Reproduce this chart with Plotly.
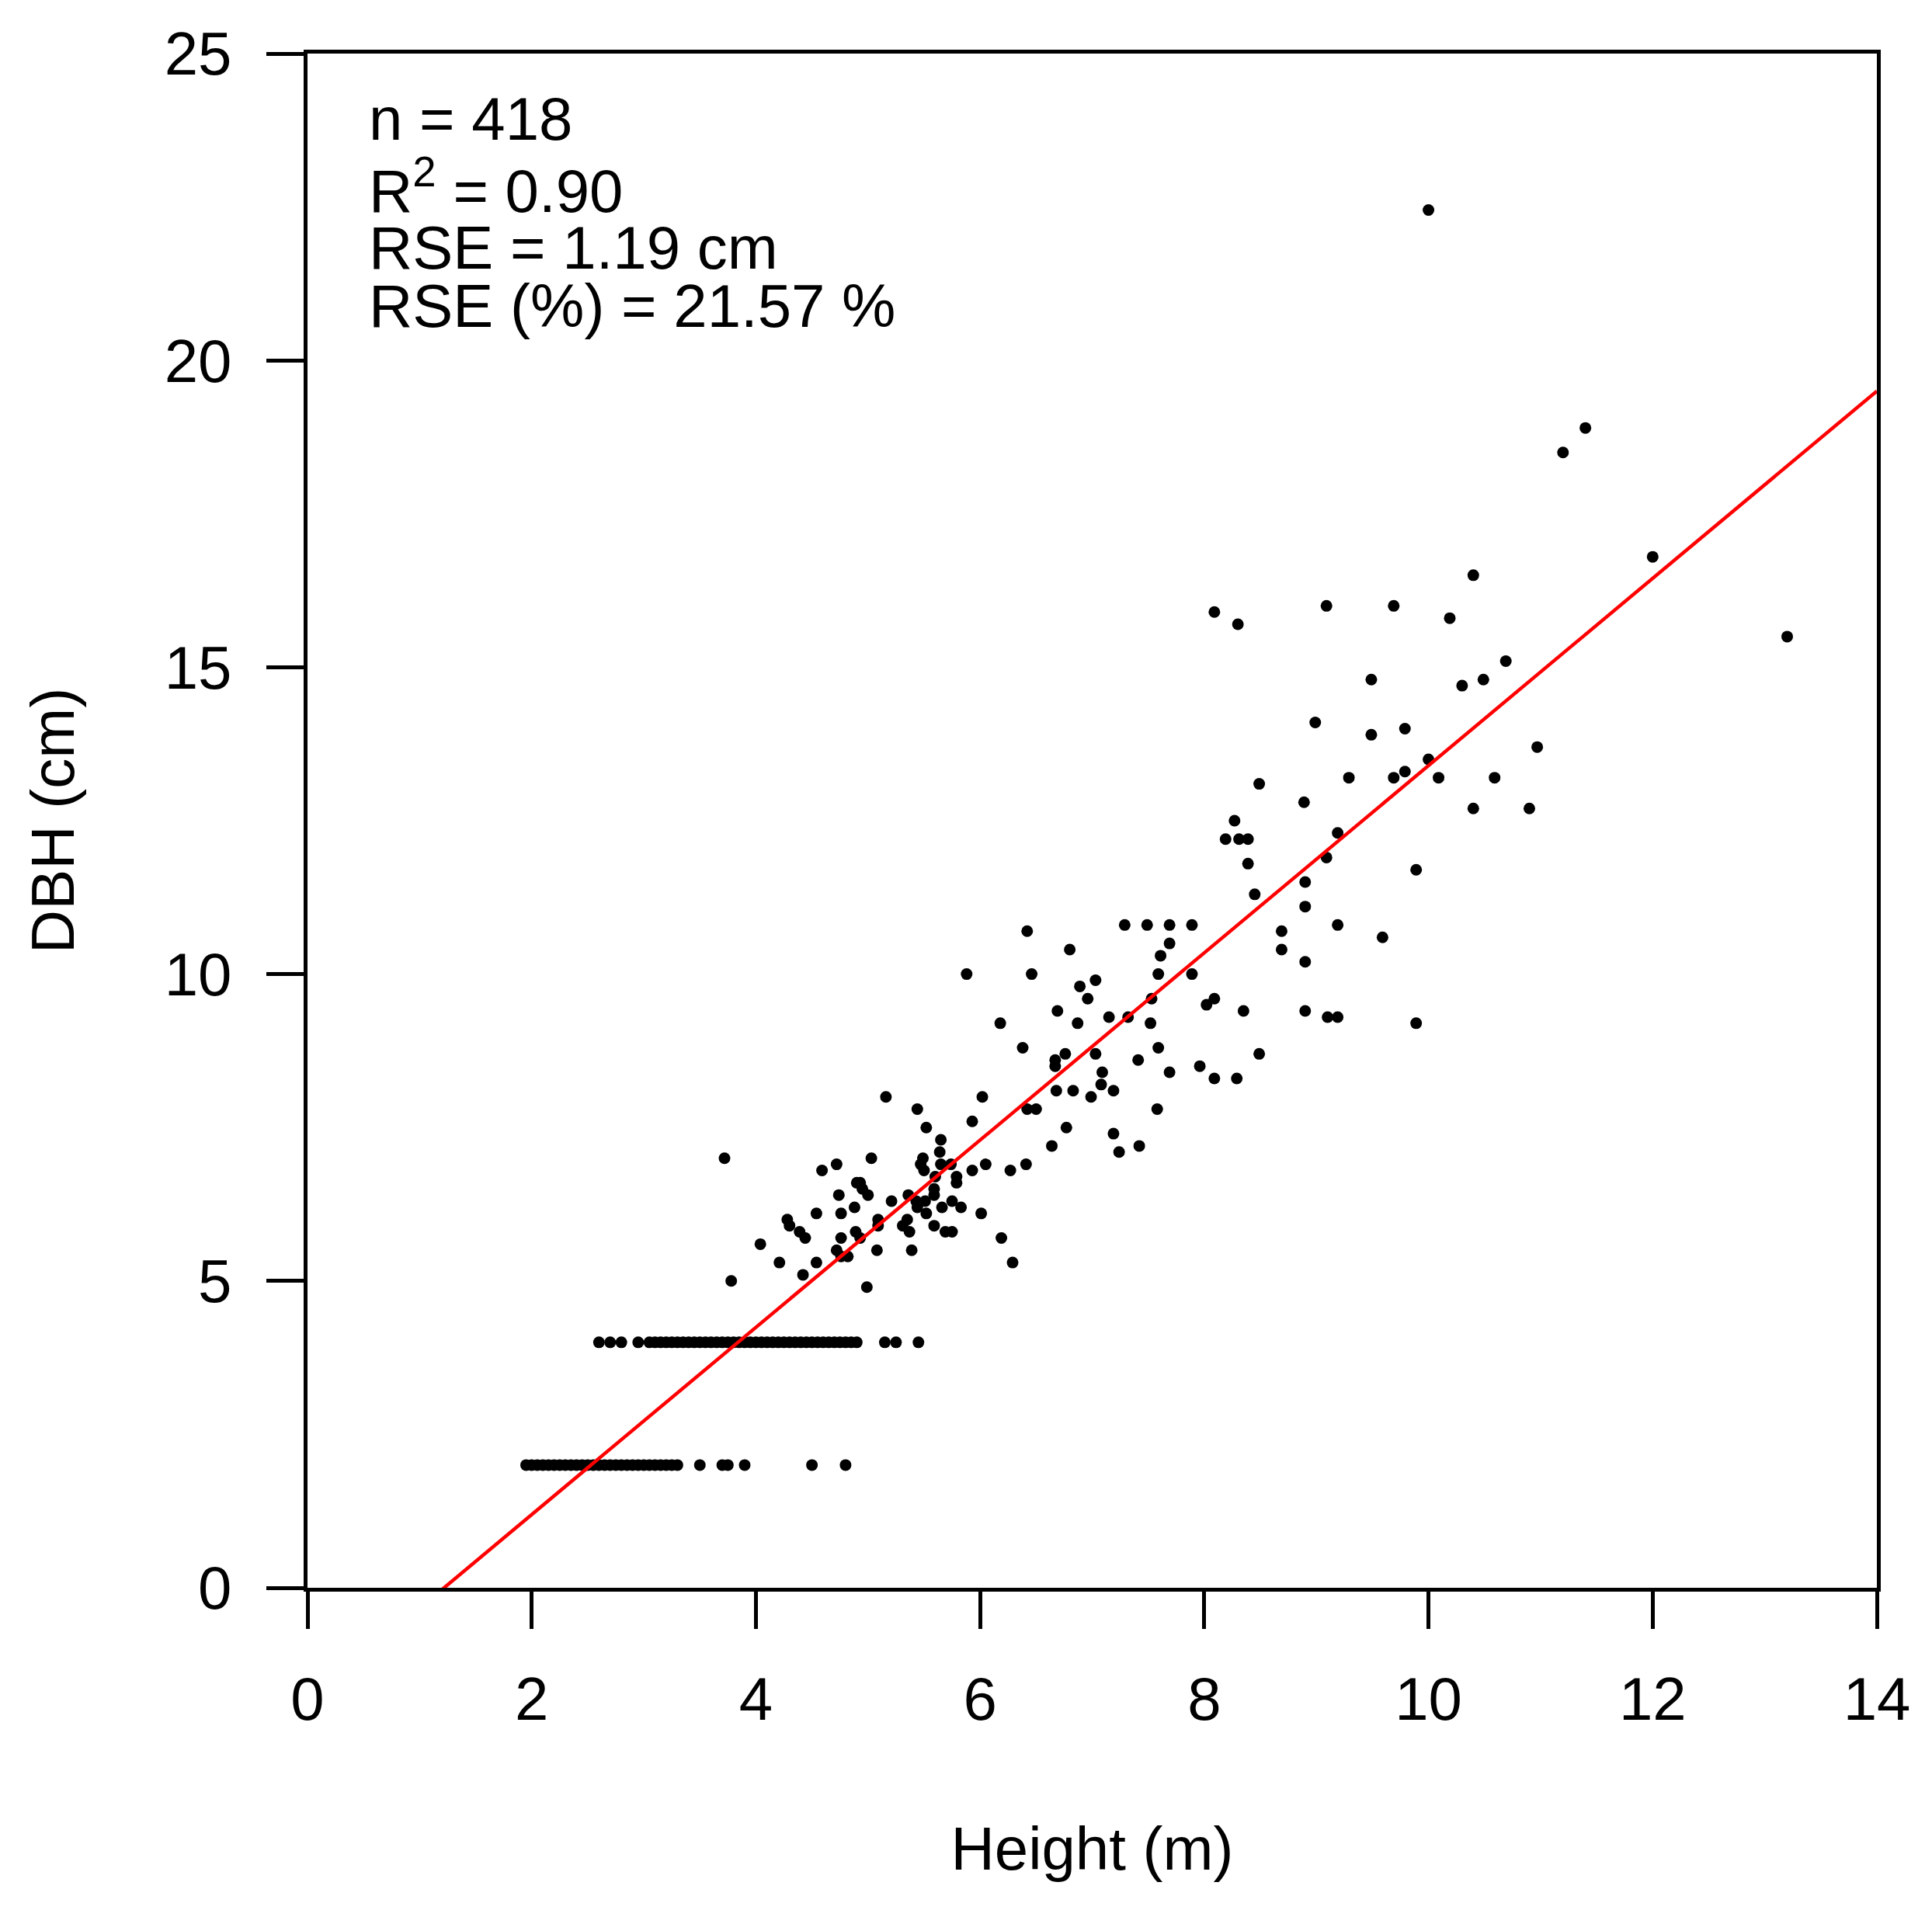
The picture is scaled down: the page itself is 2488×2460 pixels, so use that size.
import plotly.graph_objects as go

# tree height (m) vs DBH (cm) - scattered trees
height_m = [5.16, 6.02, 5.44, 5.93, 5.52, 5.65, 5.64, 3.72, 5.03, 5.49,
            5.47, 5.50, 4.72, 4.59, 5.65, 5.74, 6.05, 5.93, 6.27, 6.41,
            6.42, 6.50, 5.60, 5.79, 5.79, 4.90, 4.95, 4.93, 5.00, 4.74,
            5.59, 5.59, 5.21, 5.36, 5.43, 5.51, 5.75, 4.88, 5.66, 5.83,
            5.44, 4.54, 4.76, 5.52, 6.01, 4.28, 4.30, 5.09, 5.09, 5.35,
            5.31, 5.37, 4.39, 4.44, 4.89, 4.93, 5.59, 5.69, 5.75, 4.76,
            4.04, 6.19, 4.72, 4.76, 4.82, 5.08, 5.39, 4.21, 4.54, 6.29,
            4.42, 3.78, 4.99,
            8.90, 8.45, 8.90, 7.29, 7.49, 7.69, 7.89, 6.42, 7.69, 8.69,
            8.69, 6.80, 7.61, 8.90, 5.88, 6.46, 7.59, 7.89, 7.03, 6.89,
            6.96, 7.53, 8.02, 8.09, 6.69, 8.35, 8.90, 7.15, 7.32, 6.18,
            6.87, 7.52, 6.38, 7.59, 6.76, 6.67, 6.67, 7.03, 8.49, 7.41,
            7.09, 7.69, 7.96, 8.09, 8.29, 7.08, 6.68, 6.83, 7.19, 6.99,
            7.58, 6.77, 7.19, 6.64, 7.24, 7.42,
            10.40, 8.09, 8.30, 9.09, 9.69, 10.19, 10.69, 9.49, 10.30, 10.49,
            8.99, 9.49, 9.79, 10.97, 10.00, 8.49, 9.29, 9.69, 9.79, 10.09,
            10.59, 8.89, 10.40, 10.90, 8.27, 8.19, 8.31, 8.39, 9.19, 8.39,
            9.09, 9.89,
            11.40, 11.20, 12.00, 13.20, 10.00,
            9.19, 9.59, 9.10, 9.19, 9.89]
dbh_cm = [8.0, 8.0, 7.8, 7.6, 7.5, 7.3, 7.1, 7.0, 7.0, 7.0,
          6.9, 6.8, 6.9, 6.8, 6.9, 6.9, 6.9, 6.8, 6.8, 6.9,
          7.8, 7.8, 6.7, 6.7, 6.6, 6.6, 6.5, 6.6, 6.4, 6.4,
          6.5, 6.4, 6.3, 6.4, 6.3, 6.3, 6.3, 6.2, 6.2, 6.2,
          6.2, 6.1, 6.1, 6.1, 6.1, 6.0, 5.9, 6.0, 5.9, 6.0,
          5.9, 5.8, 5.8, 5.7, 5.8, 5.7, 5.9, 5.8, 5.8, 5.7,
          5.6, 5.7, 5.5, 5.4, 5.4, 5.5, 5.5, 5.3, 5.3, 5.3,
          5.1, 5.0, 4.9,
          11.5, 11.3, 11.1, 10.8, 10.8, 10.8, 10.8, 10.7, 10.5, 10.7,
          10.4, 10.4, 10.3, 10.2, 10.0, 10.0, 10.0, 10.0, 9.9, 9.8,
          9.6, 9.6, 9.5, 9.6, 9.4, 9.4, 9.4, 9.3, 9.3, 9.2,
          9.2, 9.2, 8.8, 8.8, 8.7, 8.6, 8.5, 8.7, 8.7, 8.6,
          8.4, 8.4, 8.5, 8.3, 8.3, 8.2, 8.1, 8.1, 8.1, 8.0,
          7.8, 7.5, 7.4, 7.2, 7.1, 7.2,
          16.5, 15.9, 15.7, 16.0, 16.0, 15.8, 15.1, 14.8, 14.7, 14.8,
          14.1, 13.9, 14.0, 13.7, 13.5, 13.1, 13.2, 13.2, 13.3, 13.2,
          13.2, 12.8, 12.7, 12.7, 12.5, 12.2, 12.2, 12.2, 12.3, 11.8,
          11.9, 11.7,
          18.9, 18.5, 16.8, 15.5, 22.45,
          10.8, 10.6, 9.3, 9.3, 9.2]

# small trees recorded in 2 cm and 4 cm DBH classes
row2_height = [1.95, 2.00, 2.05, 2.10, 2.15, 2.20, 2.25, 2.30, 2.35, 2.40,
               2.45, 2.50, 2.55, 2.60, 2.65, 2.70, 2.75, 2.80, 2.85, 2.90,
               2.95, 3.00, 3.05, 3.10, 3.15, 3.20, 3.25, 3.30, 3.50, 3.70,
               3.75, 3.90, 4.50, 4.80]
row2_dbh = [2, 2, 2, 2, 2, 2, 2, 2, 2, 2,
            2, 2, 2, 2, 2, 2, 2, 2, 2, 2,
            2, 2, 2, 2, 2, 2, 2, 2, 2, 2,
            2, 2, 2, 2]
row4_height = [2.60, 2.70, 2.80, 2.95, 3.05, 3.10, 3.15, 3.20, 3.25, 3.30,
               3.35, 3.40, 3.45, 3.50, 3.55, 3.60, 3.65, 3.70, 3.75, 3.80,
               3.85, 3.90, 3.95, 4.00, 4.05, 4.10, 4.15, 4.20, 4.25, 4.30,
               4.35, 4.40, 4.45, 4.50, 4.55, 4.60, 4.65, 4.70, 4.75, 4.80,
               4.85, 4.90, 5.15, 5.25, 5.45]
row4_dbh = [4, 4, 4, 4, 4, 4, 4, 4, 4, 4,
            4, 4, 4, 4, 4, 4, 4, 4, 4, 4,
            4, 4, 4, 4, 4, 4, 4, 4, 4, 4,
            4, 4, 4, 4, 4, 4, 4, 4, 4, 4,
            4, 4, 4, 4, 4]

# fitted line
fit_x = [1.12, 14.0]
fit_y = [-0.15, 19.5]

stats_lines = ["n = 418", "R<sup>2</sup> = 0.90", "RSE = 1.19 cm", "RSE (%) = 21.57 %"]

FONT = "Liberation Sans, Arial, Helvetica, sans-serif"

fig = go.Figure()

fig.add_trace(go.Scatter(
    x=row2_height + row4_height + height_m,
    y=row2_dbh + row4_dbh + dbh_cm,
    mode="markers",
    marker=dict(color="black", size=15, line=dict(width=0)),
    showlegend=False,
))

fig.add_trace(go.Scatter(
    x=fit_x, y=fit_y, mode="lines",
    line=dict(color="#ff0000", width=4.5),
    showlegend=False,
))

axis_style = dict(
    showgrid=False, zeroline=False,
    showline=True, linecolor="black", linewidth=5, mirror=True,
    ticks="outside", ticklen=48, tickwidth=5, tickcolor="black",
    tickfont=dict(family=FONT, size=78, color="black"),
)

fig.update_xaxes(range=[0, 14], tickvals=[0, 2, 4, 6, 8, 10, 12, 14],
                 ticklabelstandoff=23,
                 title=dict(text="Height (m)", font=dict(family=FONT, size=78, color="black"),
                            standoff=124),
                 **axis_style)
fig.update_yaxes(range=[0, 25], tickvals=[0, 5, 10, 15, 20, 25],
                 ticklabelstandoff=29,
                 title=dict(text="DBH (cm)", font=dict(family=FONT, size=78, color="black"),
                            standoff=92),
                 **axis_style)

# stats text, top-left inside the box
for i, txt in enumerate(stats_lines):
    fig.add_annotation(x=0.53, y=[23.36, 22.18, 21.25, 20.30][i], xref="x", yref="y",
                       text=txt, showarrow=False, xanchor="left", yanchor="bottom",
                       font=dict(family=FONT, size=78, color="black"))

fig.update_layout(
    width=2488, height=2460,
    margin=dict(l=396, r=71, t=69, b=415, autoexpand=False),
    plot_bgcolor="white", paper_bgcolor="white",
    font=dict(family=FONT, color="black"),
)

fig.write_html("out.html", config={"displayModeBar": False},
               post_script="document.body.style.margin='0';")
